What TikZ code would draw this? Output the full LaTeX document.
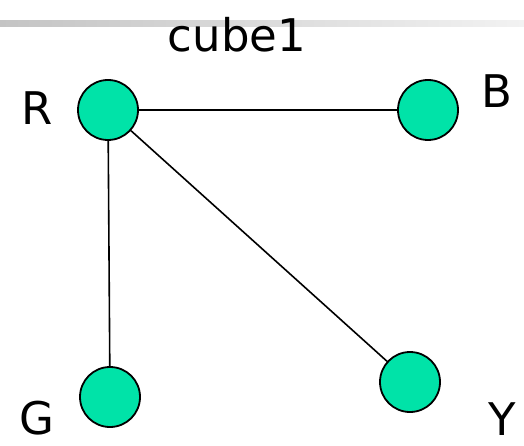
\documentclass[tikz,border=0pt]{standalone}
\usepackage{fontspec}
\setmainfont{DejaVu Sans}
\definecolor{nodegreen}{HTML}{00E3A8}
\definecolor{barleft}{HTML}{C4C4C4}
\definecolor{barright}{HTML}{F2F2F2}
\tikzset{
  vert/.style={circle, draw=black, line width=1.8pt, fill=nodegreen, minimum size=60pt, inner sep=0pt},
  lbl/.style={font=\fontsize{45}{48}\selectfont, inner sep=0pt},
  edge/.style={line width=1.6pt}
}
\begin{document}
\begin{tikzpicture}[x=1pt,y=-1pt]
\useasboundingbox (0,0) rectangle (524,446);
\shade[left color=barleft, right color=barright] (0,21) rectangle (524,27);
\node[lbl] (title) at (237,35) {cube1};
\node[vert] (R) at (108,110) {};
\node[vert] (B) at (428,110) {};
\node[vert] (G) at (110,397) {};
\node[vert] (Y) at (410,382) {};
\draw[edge] (R) -- (B);
\draw[edge] (R) -- (G);
\draw[edge] (R) -- (Y);
\node[lbl] (lR) at (37,108) {R};
\node[lbl] (lB) at (497,91) {B};
\node[lbl] (lG) at (37,418) {G};
\node[lbl] (lY) at (502,419) {Y};
\end{tikzpicture}
\end{document}
